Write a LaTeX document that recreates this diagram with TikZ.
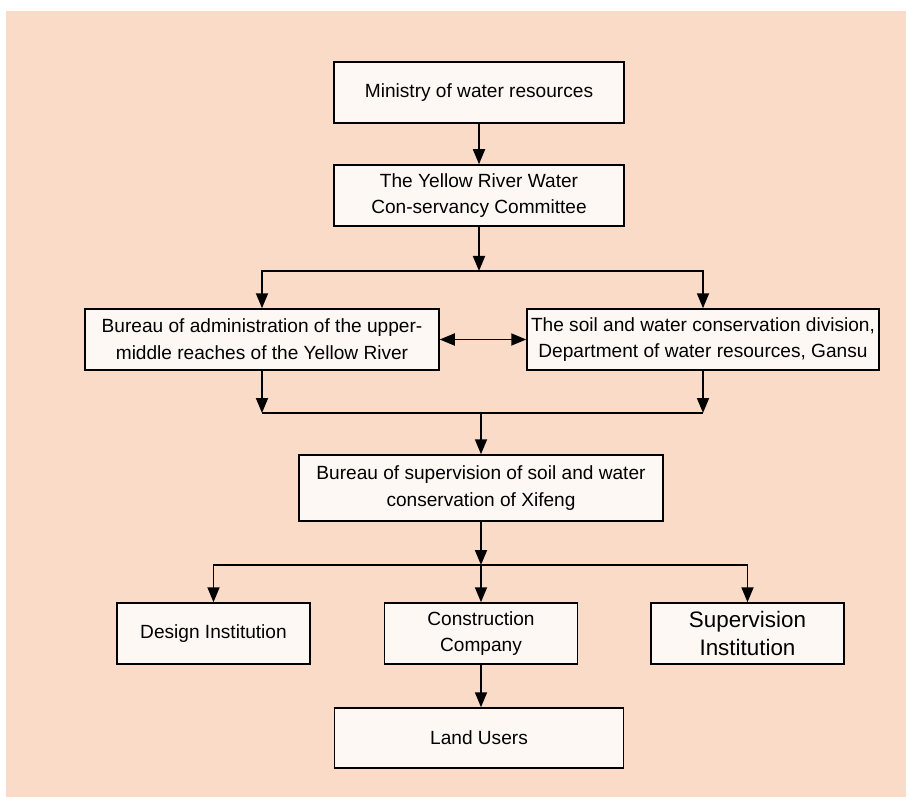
\documentclass[tikz,border=0pt]{standalone}
\usepackage{fontspec}
\setmainfont{Liberation Sans}
\usetikzlibrary{arrows.meta}
\definecolor{pagebg}{RGB}{249,219,200}
\definecolor{boxfill}{RGB}{254,248,244}
\begin{document}
\begin{tikzpicture}[x=1pt,y=-1pt,
  orgbox/.style={draw=black,line width=1.5pt,fill=boxfill,inner sep=0pt,align=center,
    font=\fontsize{19.1}{26.7}\selectfont},
  link/.style={line width=1.8pt},
  arr/.style={link,-{Triangle[length=15pt,width=12pt]}},
  dblarr/.style={link,{Triangle[length=15pt,width=12pt]}-{Triangle[length=15pt,width=12pt]}}]
  % page and backdrop
  \useasboundingbox (0,0) rectangle (906,797);
  \fill[white] (0,0) rectangle (906,797);
  \fill[pagebg] (6,11) rectangle (906,797);

  % boxes
  \node[orgbox,minimum width=290pt,minimum height=61pt] (min) at (479,92.5) {Ministry of water resources};
  \node[orgbox,minimum width=290pt,minimum height=61pt] (yr) at (479,195.5) {The Yellow River Water\\Con-servancy Committee};
  \node[orgbox,minimum width=354pt,minimum height=61pt] (bam) at (262,339.5) {Bureau of administration of the upper-\\middle reaches of the Yellow River};
  \node[orgbox,minimum width=352pt,minimum height=61pt] (swc) at (703,339.5) {The soil and water conservation division,\\Department of water resources, Gansu};
  \node[orgbox,minimum width=364pt,minimum height=66pt] (bss) at (481,488) {Bureau of supervision of soil and water\\conservation of Xifeng};
  \node[orgbox,minimum width=193pt,minimum height=61pt] (des) at (213.5,633.5) {Design Institution};
  \node[orgbox,minimum width=193pt,minimum height=61pt] (con) at (481,633.5) {Construction\\Company};
  \node[orgbox,minimum width=193pt,minimum height=61pt,
        font=\fontsize{22.4}{28}\selectfont] (sup) at (747.5,633.5) {Supervision\\Institution};
  \node[orgbox,minimum width=289pt,minimum height=60pt] (lu) at (479,738) {Land Users};

  % junction points of the branching lines
  \coordinate (j1) at (479,271);
  \coordinate (j2) at (481,413);
  \coordinate (j3) at (481,565);

  % connectors
  \draw[arr] (min.south) -- (min.south |- yr.north);
  \draw[arr] (yr.south) -- (j1);
  \draw[arr] (j1) -| (bam.north);
  \draw[arr] (j1) -| (swc.north);
  \draw[dblarr] (bam.east) -- (swc.west);
  \draw[arr] (bam.south) -- (bam.south |- j2);
  \draw[arr] (swc.south) -- (swc.south |- j2);
  \draw[link] (bam.south |- j2) -- (swc.south |- j2);
  \draw[arr] (j2) -- (j2 |- bss.north);
  \draw[arr] (bss.south) -- (j3);
  \draw[arr] (j3) -| (des.north);
  \draw[arr] (j3) -- (con.north);
  \draw[arr] (j3) -| (sup.north);
  \draw[arr] (con.south) -- (con.south |- lu.north);
\end{tikzpicture}
\end{document}
